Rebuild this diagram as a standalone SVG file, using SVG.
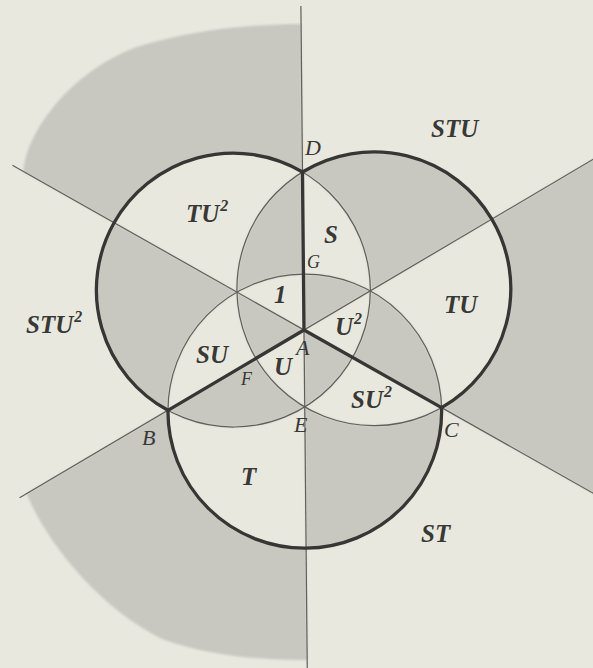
<svg xmlns="http://www.w3.org/2000/svg" width="593" height="668" viewBox="0 0 593 668">
<defs>
<style>
.thin{fill:none;stroke:#5f5f5b;stroke-width:1.2}
.thick{fill:none;stroke:#363634;stroke-width:3.3;stroke-linecap:round;stroke-linejoin:round}
.rl{font-family:"Liberation Serif","Times New Roman",serif;font-style:italic;font-weight:bold;font-size:25px;fill:#383836}
.pl{font-family:"Liberation Serif","Times New Roman",serif;font-style:italic;font-size:22px;fill:#383836}
.sm{font-size:18px}
.sup{font-size:16px}
</style>
<filter id="soft" filterUnits="userSpaceOnUse" x="-50" y="-50" width="700" height="770"><feGaussianBlur stdDeviation="0.9"/></filter>
</defs>
<rect width="593" height="668" fill="#e9e8df"/>
<g id="figure" transform="rotate(-0.55 304 330)">
 <g id="shading">
  <path fill="#c8c7c0" fill-rule="evenodd" filter="url(#soft)" d="M96.99,289.5 a136.85,136.85 0 1 0 273.7,0 a136.85,136.85 0 1 0 -273.7,0 Z M237.3,289.5 a136.85,136.85 0 1 0 273.7,0 a136.85,136.85 0 1 0 -273.7,0 Z M167.15,411 a136.85,136.85 0 1 0 273.7,0 a136.85,136.85 0 1 0 -273.7,0 Z M304,330 L25,168.9 C28,125 85,55 160,40 C210,27 260,24 304,24 Z M304,330 L25,491.1 C45,540 95,605 160,638 C205,655 260,660 304,660 Z M304,330 L600,500.9 L600,159.1 Z"/>
 </g>
 <g id="connectors">
  <circle class="thin" cx="233.85" cy="289.5" r="136.85"/>
  <circle class="thin" cx="374.15" cy="289.5" r="136.85"/>
  <circle class="thin" cx="304" cy="411" r="136.85"/>
  <path class="thin" d="M304,6 L304,668"/>
  <path class="thin" d="M14,162.5 L600,500.9"/>
  <path class="thin" d="M18,495.1 L600,159.1"/>
  <path class="thick" d="M304,172 L304,330 L167.17,409 M304,330 L440.83,409"/>
  <path class="thick" d="M304,172 A136.85,136.85 0 1 0 167.17,409"/>
  <path class="thick" d="M304,172 A136.85,136.85 0 1 1 440.83,409"/>
  <path class="thick" d="M167.17,409 A136.85,136.85 0 1 0 440.83,409"/>
 </g>
</g>
<g id="labels">
 <g id="n-STU"><text class="rl" x="431" y="137">STU</text></g>
 <g id="n-TU2"><text class="rl" x="186" y="222">TU<tspan class="sup" dx="1" dy="-11">2</tspan></text></g>
 <g id="n-S"><text class="rl" x="324" y="243">S</text></g>
 <g id="n-1"><text class="rl" x="274" y="303">1</text></g>
 <g id="n-TU"><text class="rl" x="444" y="313">TU</text></g>
 <g id="n-U2"><text class="rl" x="335" y="335">U<tspan class="sup" dx="1" dy="-11">2</tspan></text></g>
 <g id="n-STU2"><text class="rl" x="26" y="333">STU<tspan class="sup" dx="1" dy="-11">2</tspan></text></g>
 <g id="n-U"><text class="rl" x="274" y="375">U</text></g>
 <g id="n-SU"><text class="rl" x="196" y="363">SU</text></g>
 <g id="n-SU2"><text class="rl" x="351" y="408">SU<tspan class="sup" dx="1" dy="-11">2</tspan></text></g>
 <g id="n-T"><text class="rl" x="241" y="485">T</text></g>
 <g id="n-ST"><text class="rl" x="421" y="542">ST</text></g>
 <g id="p-D"><text class="pl" x="305" y="155">D</text></g>
 <g id="p-G"><text class="pl sm" x="307" y="268">G</text></g>
 <g id="p-A"><text class="pl" x="296" y="355">A</text></g>
 <g id="p-F"><text class="pl sm" x="241" y="385">F</text></g>
 <g id="p-E"><text class="pl" x="294" y="432">E</text></g>
 <g id="p-B"><text class="pl" x="142" y="445">B</text></g>
 <g id="p-C"><text class="pl" x="444" y="437">C</text></g>
</g>
</svg>
